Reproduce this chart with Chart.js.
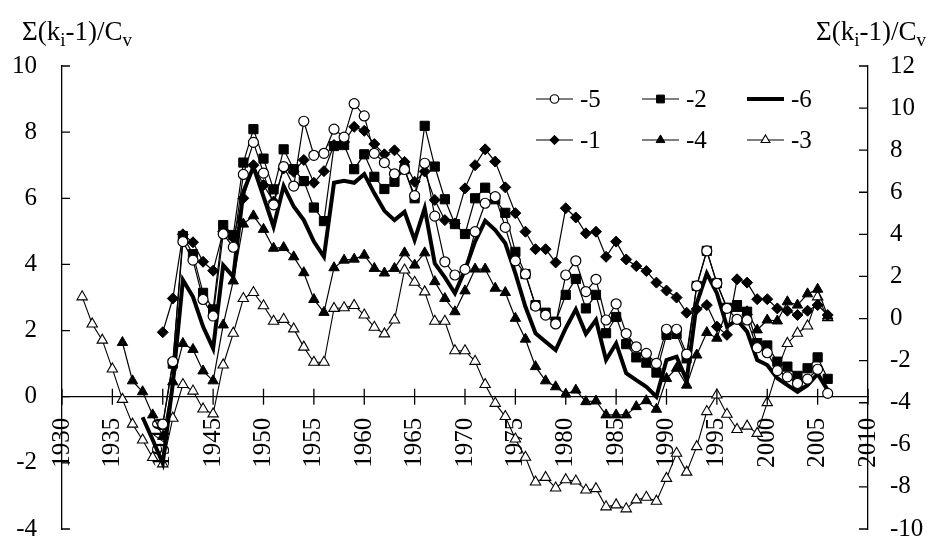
<!DOCTYPE html>
<html>
<head>
<meta charset="utf-8">
<script src="https://cdn.jsdelivr.net/npm/chart.js@4.4.1/dist/chart.umd.min.js"></script>
<style>
  html, body { margin: 0; padding: 0; background: #fff; }
  #wrap { width: 933px; height: 539px; position: relative; }
</style>
</head>
<body>
<div id="wrap"><canvas id="chart"></canvas></div>
<script>
// tick labels
const xTicks = [1930, 1935, 1940, 1945, 1950, 1955, 1960, 1965, 1970, 1975, 1980, 1985, 1990, 1995, 2000, 2005, 2010];
const leftTicks = [-4, -2, 0, 2, 4, 6, 8, 10];
const rightTicks = [-10, -8, -6, -4, -2, 0, 2, 4, 6, 8, 10, 12];

// series -5 (open circles), 1940..2006
const start5 = 1940;
const s5 = [
  -0.83, 1.06, 4.69, 4.13, 2.94, 2.44, 4.92, 4.52, 6.72, 7.69,
  6.76, 5.80, 6.96, 6.37, 8.33, 7.30, 7.36, 8.09, 7.85, 8.86,
  8.49, 7.36, 7.08, 6.74, 6.87, 6.08, 7.06, 5.46, 4.08, 3.68,
  3.85, 4.99, 5.85, 6.05, 5.12, 4.11, 3.71, 2.74, 2.47, 2.20,
  3.68, 4.11, 3.18, 3.55, 2.32, 2.81, 1.91, 1.51, 1.31, 1.01,
  2.04, 2.04, 1.29, 3.35, 4.41, 3.43, 2.67, 2.34, 2.32, 1.48,
  1.33, 0.79, 0.60, 0.40, 0.53, 0.83, 0.10
];

// series -2 (filled squares), 1940..2006
const start2 = 1940;
const s2 = [
  -0.85, 1.00, 4.86, 4.31, 3.14, 2.64, 5.19, 4.89, 7.08, 8.09,
  7.20, 6.27, 7.48, 6.88, 6.52, 5.72, 5.31, 7.58, 7.61, 6.88,
  7.33, 6.65, 6.28, 6.50, 6.88, 6.00, 8.19, 6.96, 5.97, 5.22,
  4.92, 6.00, 6.32, 5.97, 5.56, 4.38, 3.71, 2.77, 2.54, 2.27,
  3.08, 3.56, 2.67, 3.08, 1.92, 2.41, 1.59, 1.19, 1.03, 0.73,
  1.87, 1.90, 1.16, 3.35, 4.41, 3.43, 2.69, 2.77, 2.57, 1.62,
  1.55, 1.06, 0.91, 0.63, 0.86, 1.19, 0.54
];

// series -6 (thick line), 1938..2006
const start6 = 1938;
const s6 = [
  -0.62, -1.30,
  -2.01, 0.40, 3.53, 3.02, 2.12, 1.46, 3.98, 3.63, 6.20, 6.95,
  6.05, 5.14, 6.37, 5.75, 5.34, 4.69, 4.23, 6.47, 6.53, 6.47,
  6.73, 6.15, 5.62, 5.34, 5.59, 4.74, 5.70, 4.03, 3.61, 3.13,
  3.83, 4.69, 5.32, 5.04, 4.64, 3.73, 2.72, 1.92, 1.66, 1.41,
  2.07, 2.64, 1.90, 2.32, 1.11, 1.61, 0.71, 0.50, 0.30, 0.00,
  1.11, 1.21, 0.50, 2.82, 3.73, 3.13, 2.12, 2.32, 1.97, 1.11,
  0.96, 0.56, 0.35, 0.15, 0.35, 0.69, 0.20
];

// series -1 (diamonds), 1940..2006
const start1 = 1940;
const s1 = [
  1.95, 2.97, 4.91, 4.67, 4.08, 3.81, 5.00, 4.80, 6.00, 7.00,
  6.40, 5.90, 6.90, 6.80, 7.16, 6.47, 6.82, 7.61, 7.70, 8.16,
  8.04, 7.64, 7.33, 7.45, 7.10, 6.50, 6.81, 5.95, 5.34, 5.24,
  6.30, 7.00, 7.48, 7.11, 6.33, 5.55, 4.99, 4.46, 4.46, 4.06,
  5.70, 5.42, 4.94, 4.99, 4.23, 4.69, 4.15, 3.95, 3.80, 3.45,
  3.21, 3.00, 2.54, 2.65, 2.77, 2.12, 1.87, 3.55, 3.45, 2.95,
  2.95, 2.67, 2.60, 2.47, 2.60, 2.77, 2.47
];

// series -4 (filled triangles), 1936..2006
const start4 = 1936;
const s4 = [
  1.64, 0.48, 0.15, -0.55,
  -1.20, 0.45, 1.61, 1.43, 0.78, 0.48, 2.17, 3.50, 5.22, 5.47,
  5.06, 4.49, 4.51, 4.23, 3.75, 2.94, 2.55, 3.90, 4.13, 4.16,
  4.28, 3.88, 3.74, 3.88, 4.35, 3.98, 4.35, 3.48, 2.97, 2.57,
  3.20, 3.86, 3.86, 3.28, 3.15, 2.37, 1.74, 0.91, 0.48, 0.30,
  0.08, 0.20, -0.15, -0.13, -0.55, -0.55, -0.55, -0.30, -0.12, -0.38,
  0.55, 0.86, 0.35, 1.26, 1.94, 1.77, 2.64, 2.67, 2.57, 2.02,
  2.32, 2.29, 2.87, 2.77, 3.11, 3.25, 2.44
];

// series -3 (open triangles), 1932..2006
const start3 = 1932;
const s3 = [
  3.02, 2.20, 1.71, 0.84, -0.08, -0.83, -1.31, -1.84,
  -2.03, -0.65, 0.37, 0.17, -0.37, -0.52, 0.96, 1.92, 2.97, 3.15,
  2.75, 2.28, 2.34, 2.05, 1.50, 1.04, 1.04, 2.67, 2.69, 2.76,
  2.47, 2.10, 1.90, 2.32, 3.83, 3.46, 3.17, 2.28, 2.28, 1.39,
  1.39, 1.07, 0.37, -0.20, -0.60, -1.28, -1.83, -2.58, -2.44, -2.76,
  -2.51, -2.55, -2.82, -2.78, -3.33, -3.27, -3.39, -3.12, -3.04, -3.16,
  -2.47, -1.71, -2.28, -1.51, -0.45, 0.05, -0.53, -0.99, -0.89, -1.11,
  -0.18, 0.81, 1.61, 1.92, 2.14, 3.02, 2.39
];

const FONT = 'Liberation Serif, Times New Roman, serif';
const FS = 25;

function pts(start, vals) {
  return vals.map((v, i) => ({ x: start + i, y: v }));
}

const series = [
  { label: '-5', start: start5, vals: s5, style: 'circle', r: 5, fill: '#fff', bw: 1.2, lw: 1.2 },
  { label: '-2', start: start2, vals: s2, style: 'rect', r: 6.5, fill: '#000', bw: 1, lw: 1.2 },
  { label: '-6', start: start6, vals: s6, style: false, r: 0, fill: '#000', bw: 0, lw: 4 },
  { label: '-1', start: start1, vals: s1, style: 'rectRot', r: 5.5, fill: '#000', bw: 1, lw: 1.2 },
  { label: '-4', start: start4, vals: s4, style: 'triangle', r: 6, fill: '#000', bw: 1, lw: 1.2 },
  { label: '-3', start: start3, vals: s3, style: 'triangle', r: 6, fill: '#fff', bw: 1.1, lw: 1.1 }
];

const datasets = series.map(s => ({
  label: s.label,
  data: pts(s.start, s.vals),
  yAxisID: 'y',
  borderColor: '#000',
  borderWidth: s.lw,
  pointStyle: s.style || 'circle',
  pointRadius: s.r,
  pointBackgroundColor: s.fill,
  pointBorderColor: '#000',
  pointBorderWidth: s.bw,
  tension: 0,
  fill: false
}));

// legend layout: two rows, three columns
const legendRows = [['-5', '-2', '-6'], ['-1', '-4', '-3']];
const legendRowY = [99, 140];
const legendColX = [536, 642, 747];

const decorations = {
  id: 'decorations',
  afterDraw(chart) {
    const { ctx, chartArea, scales } = chart;
    const x = scales.x, y = scales.y, y2 = scales.y2;
    ctx.save();
    ctx.strokeStyle = '#000';
    ctx.lineWidth = 1.3;
    ctx.beginPath();
    const y0 = y.getPixelForValue(0);
    x.ticks.forEach(t => {
      const px = x.getPixelForValue(t.value);
      ctx.moveTo(px, y0 - 8);
      ctx.lineTo(px, y0 + 8);
    });
    y.ticks.forEach(t => {
      const py = y.getPixelForValue(t.value);
      ctx.moveTo(chartArea.left, py);
      ctx.lineTo(chartArea.left + 8, py);
    });
    y2.ticks.forEach(t => {
      const py = y2.getPixelForValue(t.value);
      ctx.moveTo(chartArea.right - 9, py);
      ctx.lineTo(chartArea.right, py);
    });
    ctx.stroke();

    // axis titles
    function title(xStart, base, alignRight) {
      const parts = [['Σ(k', 27, 0], ['i', 19, 6], ['-1)/C', 27, 0], ['v', 19, 6]];
      let w = 0;
      parts.forEach(p => { ctx.font = p[1] + 'px ' + FONT; w += ctx.measureText(p[0]).width; });
      let cx = alignRight ? xStart - w : xStart;
      ctx.fillStyle = '#000';
      ctx.textBaseline = 'alphabetic';
      ctx.textAlign = 'left';
      parts.forEach(p => {
        ctx.font = p[1] + 'px ' + FONT;
        ctx.fillText(p[0], cx, base + p[2]);
        cx += ctx.measureText(p[0]).width;
      });
    }
    title(22, 40, false);
    title(926, 40, true);

    // legend
    legendRows.forEach((row, ri) => {
      row.forEach((lab, ci) => {
        const s = series.find(q => q.label === lab);
        const lx = legendColX[ci], ly = legendRowY[ri];
        ctx.strokeStyle = '#000';
        ctx.lineWidth = s.lw;
        ctx.beginPath();
        ctx.moveTo(lx, ly);
        ctx.lineTo(lx + 37, ly);
        ctx.stroke();
        if (s.style) {
          ctx.fillStyle = s.fill;
          ctx.lineWidth = s.bw;
          Chart.helpers.drawPoint(ctx, { pointStyle: s.style, radius: s.r * 0.85, rotation: 0, borderWidth: s.bw }, lx + 18.5, ly);
        }
        ctx.fillStyle = '#000';
        ctx.font = FS + 'px ' + FONT;
        ctx.textAlign = 'left';
        ctx.textBaseline = 'middle';
        ctx.fillText(lab, lx + 44, ly + 1);
      });
    });
    ctx.restore();
  }
};

new Chart(document.getElementById('chart'), {
  type: 'line',
  data: { datasets },
  options: {
    responsive: true,
    maintainAspectRatio: false,
    animation: false,
    devicePixelRatio: 1,
    layout: { padding: { top: 66, bottom: 10, left: 0, right: 0 } },
    plugins: { legend: { display: false }, tooltip: { enabled: false } },
    scales: {
      x: {
        type: 'linear',
        axis: 'x',
        position: { y: 0 },
        min: 1930,
        max: 2010,
        afterBuildTicks: s => { s.ticks = xTicks.map(v => ({ value: v })); },
        afterFit: s => { s.height = 0; s.paddingLeft = 0; s.paddingRight = 0; },
        ticks: {
          minRotation: 90,
          maxRotation: 90,
          padding: 21,
          color: '#000',
          font: { family: FONT, size: FS },
          callback: v => String(v)
        },
        grid: { drawOnChartArea: false, drawTicks: false },
        border: { color: '#000', width: 1.3 }
      },
      y: {
        position: 'left',
        min: -4,
        max: 10,
        afterBuildTicks: s => { s.ticks = leftTicks.map(v => ({ value: v })); },
        afterFit: s => { s.width = 62; s.paddingTop = 0; s.paddingBottom = 0; },
        ticks: { padding: 25, color: '#000', font: { family: FONT, size: FS } },
        grid: { drawOnChartArea: false, drawTicks: false },
        border: { color: '#000', width: 1.3 }
      },
      y2: {
        position: 'right',
        min: -10,
        max: 12,
        afterBuildTicks: s => { s.ticks = rightTicks.map(v => ({ value: v })); },
        afterFit: s => { s.width = 65; s.paddingTop = 0; s.paddingBottom = 0; },
        ticks: { padding: 22, color: '#000', font: { family: FONT, size: FS } },
        grid: { drawOnChartArea: false, drawTicks: false },
        border: { color: '#000', width: 1.3 }
      }
    }
  },
  plugins: [decorations]
});
</script>
</body>
</html>
